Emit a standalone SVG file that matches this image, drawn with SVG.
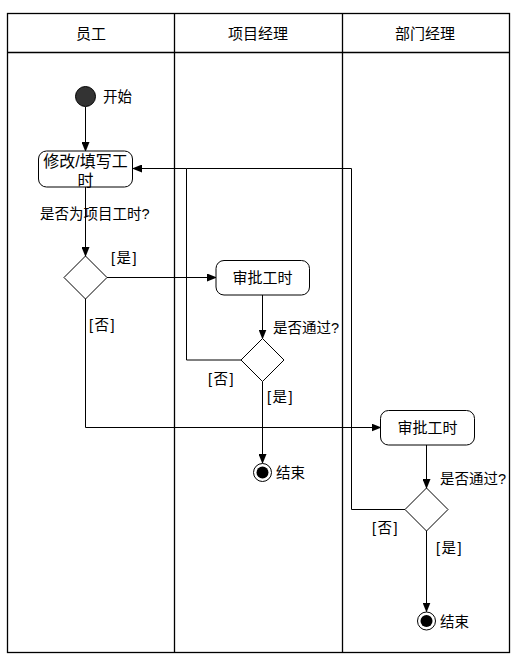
<svg xmlns="http://www.w3.org/2000/svg" width="520" height="668" viewBox="0 0 520 668">
<style>
text{font-family:"Liberation Sans","Noto Sans CJK SC",sans-serif;fill:#000}
.h{font-size:15px;text-anchor:middle}
.b{font-size:15px;text-anchor:middle}
.b1{font-size:16px;text-anchor:middle}
.l{font-size:14.5px}
.g{font-size:14.5px;letter-spacing:1.5px}
.frame{fill:none;stroke:#000;stroke-width:1.3}
.node{fill:#fff;stroke:#000;stroke-width:1}
.c{fill:none;stroke:#000;stroke-width:1}
</style>
<defs>
<marker id="a" markerWidth="10" markerHeight="8" refX="9" refY="4" orient="auto" markerUnits="userSpaceOnUse">
<path d="M0,0 L10,4 L0,8 Z" fill="#000"/>
</marker>
</defs>
<rect width="520" height="668" fill="#fff"/>
<g id="lanes">
<rect class="frame" x="7.5" y="13.5" width="502" height="639"/>
<line class="frame" x1="7.5" y1="52.5" x2="509.5" y2="52.5"/>
<line class="frame" x1="174.5" y1="13.5" x2="174.5" y2="652.5"/>
<line class="frame" x1="342.5" y1="13.5" x2="342.5" y2="652.5"/>
<text class="h" x="91" y="38.5">员工</text>
<text class="h" x="258" y="38.5">项目经理</text>
<text class="h" x="425" y="38.5">部门经理</text>
</g>
<g id="connectors">
<line class="c" x1="85.5" y1="107" x2="85.5" y2="151" marker-end="url(#a)"/>
<line class="c" x1="85.5" y1="187" x2="85.5" y2="256" marker-end="url(#a)"/>
<line class="c" x1="107" y1="277.5" x2="216" y2="277.5" marker-end="url(#a)"/>
<line class="c" x1="262.5" y1="295" x2="262.5" y2="338.5" marker-end="url(#a)"/>
<polyline class="c" points="241,360 186.5,360 186.5,168.5 133,168.5" marker-end="url(#a)"/>
<line class="c" x1="262.5" y1="381.5" x2="262.5" y2="463" marker-end="url(#a)"/>
<polyline class="c" points="85.5,299 85.5,427.5 380.5,427.5" marker-end="url(#a)"/>
<line class="c" x1="426.5" y1="445" x2="426.5" y2="488" marker-end="url(#a)"/>
<polyline class="c" points="405,509.5 351.5,509.5 351.5,168.5 186.5,168.5"/>
<line class="c" x1="426.5" y1="531" x2="426.5" y2="611.5" marker-end="url(#a)"/>
</g>
<g id="start">
<circle cx="85.5" cy="96.5" r="10" fill="#333" stroke="#000" stroke-width="1"/>
<text class="l" x="103" y="102">开始</text>
</g>
<g id="fill-hours">
<rect class="node" x="38.5" y="151" width="94" height="36" rx="8"/>
<text class="b1" x="85.5" y="167">修改/填写工</text>
<text class="b1" x="85.5" y="185.5">时</text>
</g>
<text class="l" x="40" y="218.5">是否为项目工时?</text>
<g id="decision1">
<polygon class="node" points="85.5,256 107,277.5 85.5,299 64,277.5"/>
<text class="g" x="111" y="263">[是]</text>
<text class="g" x="89" y="330">[否]</text>
</g>
<g id="pm-approve">
<rect class="node" x="216" y="260.5" width="93.5" height="34.5" rx="8"/>
<text class="b" x="262.5" y="283">审批工时</text>
</g>
<g id="decision2">
<polygon class="node" points="262.5,338.5 284,360 262.5,381.5 241,360"/>
<text class="l" x="273" y="333">是否通过?</text>
<text class="g" x="208" y="383.5">[否]</text>
<text class="g" x="267" y="401.5">[是]</text>
</g>
<g id="end1">
<circle cx="262.5" cy="472.5" r="9" fill="#fff" stroke="#000" stroke-width="1"/>
<circle cx="262.5" cy="472.5" r="6" fill="#000"/>
<text class="l" x="276" y="478">结束</text>
</g>
<g id="dm-approve">
<rect class="node" x="380.5" y="410.5" width="94" height="34.5" rx="8"/>
<text class="b" x="427.5" y="433">审批工时</text>
</g>
<g id="decision3">
<polygon class="node" points="426.5,488 448,509.5 426.5,531 405,509.5"/>
<text class="l" x="440" y="484">是否通过?</text>
<text class="g" x="372" y="533">[否]</text>
<text class="g" x="436" y="553">[是]</text>
</g>
<g id="end2">
<circle cx="426.5" cy="621" r="9" fill="#fff" stroke="#000" stroke-width="1"/>
<circle cx="426.5" cy="621" r="6" fill="#000"/>
<text class="l" x="440" y="626.5">结束</text>
</g>
</svg>
